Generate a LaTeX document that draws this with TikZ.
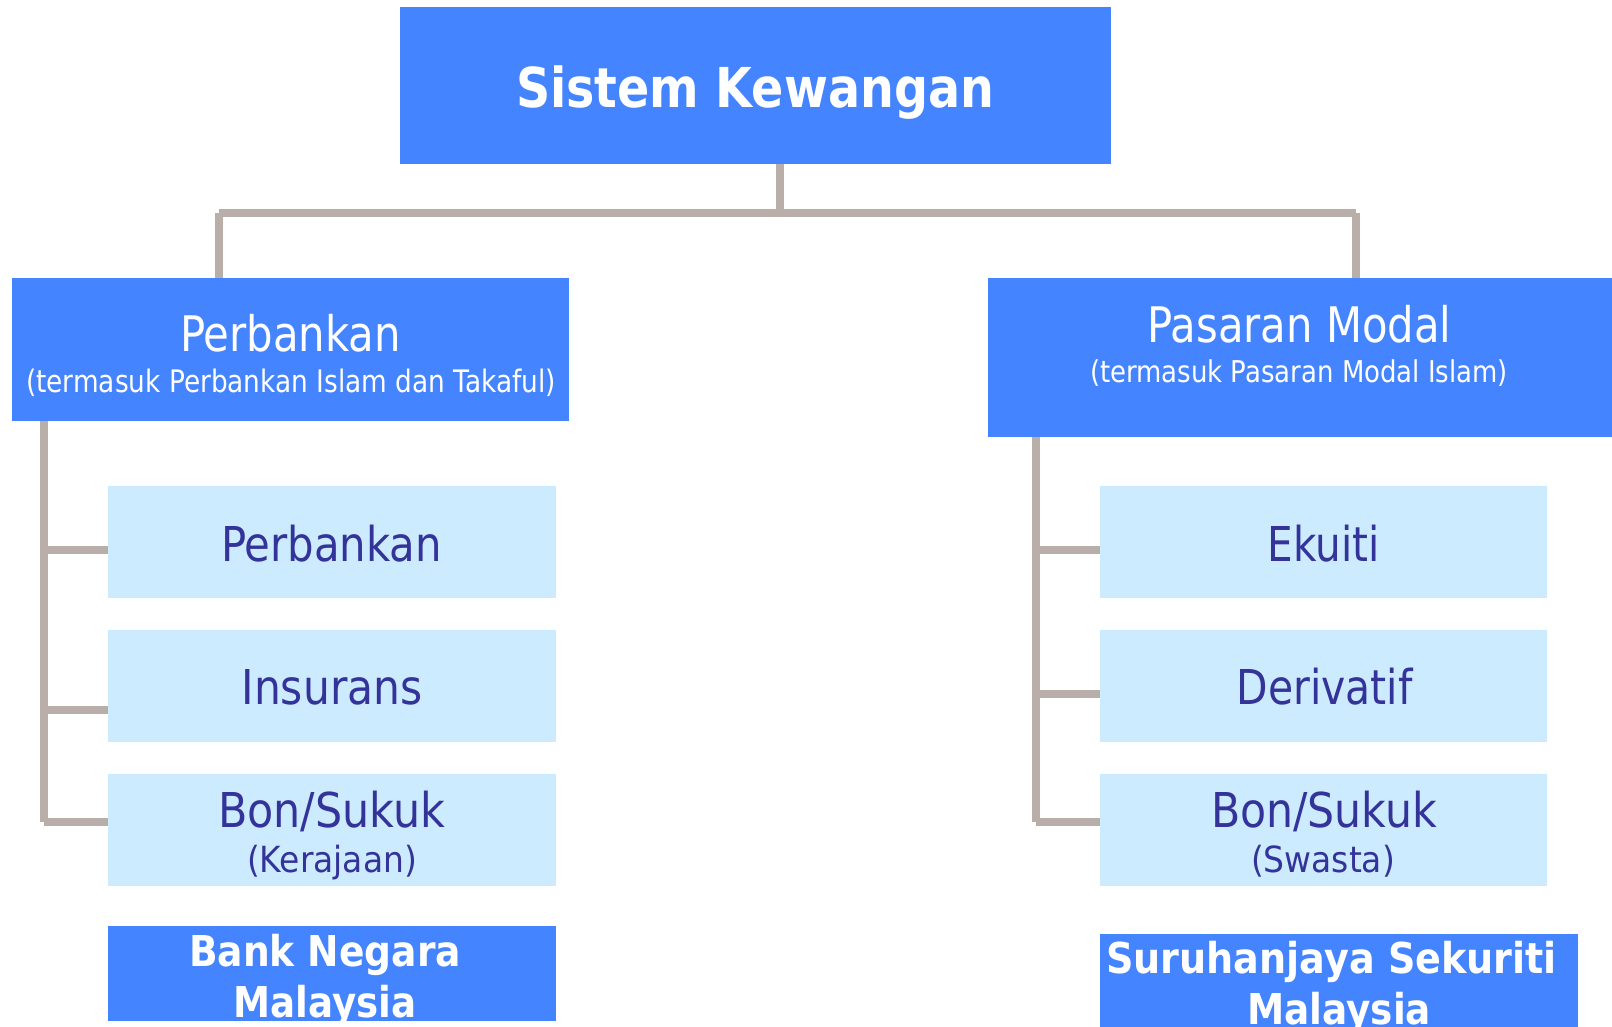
\documentclass[tikz,border=0pt]{standalone}
\usepackage{fontspec}
\setmainfont{DejaVu Sans}
\usepackage{graphicx}
\definecolor{hdrblue}{HTML}{4584FF}
\definecolor{subblue}{HTML}{CCEBFF}
\definecolor{darktxt}{HTML}{333399}
\definecolor{connclr}{HTML}{BAAEA8}
\newsavebox\fitbox
\newlength\fitlen
\newcommand\fitw[2]{\sbox\fitbox{#2}\setlength\fitlen{\wd\fitbox}\pgfmathsetmacro\fitsx{#1/\fitlen}\scalebox{\fitsx}[1]{\usebox\fitbox}}
\newcommand\fs[1]{\fontsize{#1}{#1}\selectfont}
\begin{document}
\begin{tikzpicture}[x=1pt,y=-1pt,
  hdrbox/.style={fill=hdrblue, draw=none, inner sep=0pt, outer sep=0pt},
  subbox/.style={fill=subblue, draw=none, inner sep=0pt, outer sep=0pt, minimum width=448pt, minimum height=112pt},
  wtxt/.style={text=white, inner sep=0pt, anchor=base},
  dtxt/.style={text=darktxt, inner sep=0pt, anchor=base},
  conn/.style={draw=connclr, line width=7.5pt, line cap=butt}]
\useasboundingbox (0,0) rectangle (1612,1026);
\fill[white] (0,0) rectangle (1612,1026);

% boxes
\node[hdrbox, minimum width=711pt, minimum height=157pt] (top) at (755.5,85.5) {};
\node[hdrbox, minimum width=557pt, minimum height=143pt] (perb) at (290.5,349.5) {};
\node[hdrbox, minimum width=632pt, minimum height=159pt] (pasar) at (1304,357.5) {};

\node[subbox] (l1) at (332,542) {};
\node[subbox] (l2) at (332,686) {};
\node[subbox] (l3) at (332,830) {};
\node[subbox, minimum width=447pt] (r1) at (1323.5,542) {};
\node[subbox, minimum width=447pt] (r2) at (1323.5,686) {};
\node[subbox, minimum width=447pt] (r3) at (1323.5,830) {};

\node[hdrbox, minimum width=448pt, minimum height=95pt] (bnm) at (332,973.5) {};
\node[hdrbox, minimum width=478pt, minimum height=106pt] (sc) at (1339,987) {};

% connectors
\coordinate (hub) at (780,213);
\coordinate (busL) at (219,213);
\coordinate (busR) at (1356,213);
\draw[conn] (top.south -| hub) -- (hub);
\draw[conn] (busL) -- (busR);
\draw[conn] (busL) -- (perb.north -| busL);
\draw[conn] (busR) -- (pasar.north -| busR);

\coordinate (lt) at (44,421);
\coordinate (lb1) at (44,550);
\coordinate (lb2) at (44,710);
\coordinate (lb3) at (44,822);
\draw[conn] (perb.south -| lt) -- (lb3);
\draw[conn] (lb1) -- (lb1 -| l1.west);
\draw[conn] (lb2) -- (lb2 -| l2.west);
\draw[conn] (lb3) -- (lb3 -| l3.west);

\coordinate (rt) at (1036,437);
\coordinate (rb1) at (1036,550);
\coordinate (rb2) at (1036,694);
\coordinate (rb3) at (1036,822);
\draw[conn] (pasar.south -| rt) -- (rb3);
\draw[conn] (rb1) -- (rb1 -| r1.west);
\draw[conn] (rb2) -- (rb2 -| r2.west);
\draw[conn] (rb3) -- (rb3 -| r3.west);

% texts
\node[wtxt] (tTop) at (755,107) {\fitw{478}{\bfseries\fs{55}Sistem Kewangan}};
\node[wtxt] (tPerb) at (290.5,351) {\fitw{221}{\fs{49}Perbankan}};
\node[wtxt] (tPerbS) at (291,392) {\fitw{530}{\fs{31}(termasuk Perbankan Islam dan Takaful)}};
\node[wtxt] (tPas) at (1299.5,342.5) {\fitw{304}{\fs{49}Pasaran Modal}};
\node[wtxt] (tPasS) at (1299,382) {\fitw{418}{\fs{30}(termasuk Pasaran Modal Islam)}};

\node[dtxt] (tL1) at (331.5,561) {\fitw{221}{\fs{48}Perbankan}};
\node[dtxt] (tL2) at (332,704) {\fitw{181}{\fs{48}Insurans}};
\node[dtxt] (tL3) at (331.5,827) {\fitw{227}{\fs{48}Bon/Sukuk}};
\node[dtxt] (tL3s) at (332,872) {\fitw{170}{\fs{36}(Kerajaan)}};

\node[dtxt] (tR1) at (1323.6,561) {\fitw{112}{\fs{48}Ekuiti}};
\node[dtxt] (tR2) at (1324.6,704) {\fitw{176}{\fs{48}Derivatif}};
\node[dtxt] (tR3) at (1324,827) {\fitw{226}{\fs{48}Bon/Sukuk}};
\node[dtxt] (tR3s) at (1323,872) {\fitw{144}{\fs{36}(Swasta)}};

\node[wtxt] (tB1) at (325,966) {\fitw{272}{\bfseries\fs{42.5}Bank Negara}};
\node[wtxt] (tB2) at (325,1017) {\fitw{183}{\bfseries\fs{42.5}Malaysia}};
\node[wtxt] (tS1) at (1331.5,973) {\fitw{451}{\bfseries\fs{42.5}Suruhanjaya Sekuriti}};
\node[wtxt] (tS2) at (1339,1024) {\fitw{184}{\bfseries\fs{42.5}Malaysia}};
\end{tikzpicture}
\end{document}
